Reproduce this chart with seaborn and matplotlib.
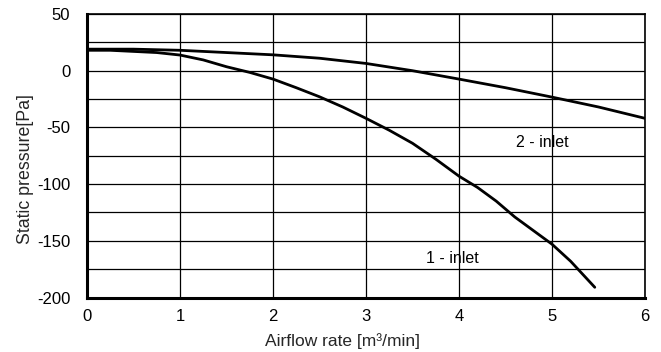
import matplotlib
matplotlib.use("Agg")
import matplotlib.pyplot as plt
import seaborn as sns
import pandas as pd

# Fan static pressure curves
flow_1_inlet = [0.0, 0.25, 0.5, 0.75, 1.0, 1.25, 1.5, 1.75, 2.0, 2.25, 2.5, 2.75,
                3.0, 3.25, 3.5, 3.75, 4.0, 4.2, 4.4, 4.6, 4.8, 5.0, 5.2, 5.46]
pres_1_inlet = [18, 18, 17, 16, 13.8, 9.5, 3.5, -1.5, -7.4, -15, -23, -32,
                -42, -52.5, -64, -78, -93, -103, -115, -129, -141, -153, -168, -191]

flow_2_inlet = [0.0, 0.5, 1.0, 1.5, 2.0, 2.5, 3.0, 3.5, 4.0, 4.5, 5.0, 5.5, 6.0]
pres_2_inlet = [19, 19, 18, 16, 14, 11, 6.4, 0, -7.4, -15, -23.3, -32, -42]

series_names = ["1 - inlet", "2 - inlet"]
label_pos = {"1 - inlet": (3.93, -166), "2 - inlet": (4.9, -63)}

df = pd.concat([
    pd.DataFrame({"flow": flow_1_inlet, "pressure": pres_1_inlet, "series": series_names[0]}),
    pd.DataFrame({"flow": flow_2_inlet, "pressure": pres_2_inlet, "series": series_names[1]}),
])

sns.set_style("white")
plt.rcParams["font.family"] = ["Liberation Sans", "DejaVu Sans"]
plt.rcParams["axes.unicode_minus"] = False

fig = plt.figure(figsize=(6.61, 3.52), dpi=100)
ax = fig.add_axes([87 / 661, 1 - 297.5 / 352, (645 - 87) / 661, (297.5 - 14) / 352])

sns.lineplot(data=df, x="flow", y="pressure", hue="series", units="series",
             estimator=None, palette=["black", "black"], linewidth=2,
             legend=False, ax=ax, sort=False)

ax.set_xlim(0, 6)
ax.set_ylim(-200, 50)
ax.set_xticks(range(0, 7))
ax.set_yticks(range(-200, 51, 50))
ax.set_yticks(range(-175, 50, 50), minor=True)
ax.grid(True, which="both", color="black", linewidth=0.9)
ax.set_axisbelow(True)

for side in ("top", "right"):
    ax.spines[side].set_color("black")
    ax.spines[side].set_linewidth(1.2)
for side in ("left", "bottom"):
    ax.spines[side].set_color("black")
    ax.spines[side].set_linewidth(2.2)

ax.tick_params(axis="both", which="major", direction="in", length=4, width=2,
               labelsize=12, colors="black")
ax.tick_params(axis="x", pad=8)
ax.tick_params(axis="y", pad=12)
ax.tick_params(axis="y", which="minor", length=0)

for name, (x, y) in label_pos.items():
    ax.text(x, y, name, ha="center", va="center", fontsize=11.5, color="black")

ax.set_xlabel("Airflow rate [m\u00b3/min]", fontsize=12.5, labelpad=7)
ax.set_ylabel("Static pressure[Pa]", fontsize=12.8, labelpad=2)
ax.xaxis.label.set_x(0.457)
ax.yaxis.label.set_y(0.453)

fig.savefig("out.png", dpi=100)
